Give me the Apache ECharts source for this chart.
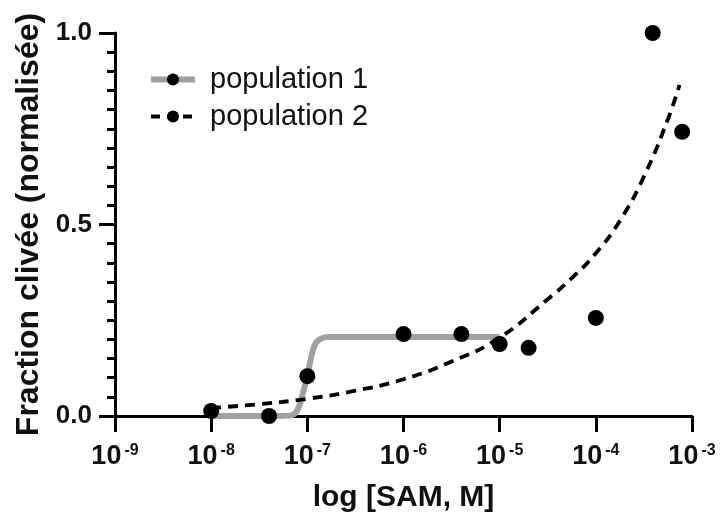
<!DOCTYPE html>
<html>
<head>
<meta charset="utf-8">
<script src="https://cdn.jsdelivr.net/npm/echarts@6/dist/echarts.min.js"></script>
<style>
  html, body { margin: 0; padding: 0; background: #fff; }
  #chart { width: 720px; height: 521px; }
</style>
</head>
<body>
<div id="chart"></div>
<script>
// points mesurés
var pop1X = [1e-8, 4e-8, 1e-7, 1e-6, 4e-6, 1e-5];
var pop1Y = [0.013, 0.0, 0.104, 0.214, 0.214, 0.188];
var pop2X = [2e-5, 1e-4, 3.9e-4, 7.9e-4];
var pop2Y = [0.178, 0.256, 1.0, 0.742];

// courbes ajustées
var fit1X = [1e-8, 5e-8, 6.5e-8, 7.4e-8, 8.2e-8, 9e-8, 1e-7, 1.1e-7, 1.22e-7, 1.38e-7, 1.7e-7, 3e-7, 1e-6, 1e-5];
var fit1Y = [0, 0, 0.001, 0.006, 0.025, 0.06, 0.104, 0.155, 0.19, 0.202, 0.206, 0.206, 0.206, 0.206];
var fit2X = [1e-8, 3.16e-8, 1e-7, 3.16e-7, 1e-6, 3.16e-6, 1e-5, 3.16e-5, 5.62e-5, 1e-4, 1.78e-4, 3.16e-4, 5.62e-4, 7.41e-4];
var fit2Y = [0.021, 0.031, 0.045, 0.066, 0.096, 0.142, 0.205, 0.305, 0.36, 0.425, 0.51, 0.625, 0.775, 0.864];

var yTicks = [0, 0.5, 1.0];

function zip(xs, ys) {
  var out = [];
  for (var i = 0; i < xs.length; i++) out.push([xs[i], ys[i]]);
  return out;
}

var font = 'Liberation Sans, Arial, Helvetica, sans-serif';
var myChart = echarts.init(document.getElementById('chart'));
var option = {
  animation: false,
  textStyle: { fontFamily: font },
  grid: { left: 115, right: 28, top: 33, bottom: 105 },
  legend: {
    data: [
      { name: 'population 1', lineStyle: { width: 6 } },
      { name: 'population 2', lineStyle: { width: 4, type: [9, 7] } }
    ],
    orient: 'vertical',
    left: 143,
    top: 60,
    itemWidth: 44,
    itemHeight: 15,
    itemGap: 8,
    textStyle: { fontSize: 29, color: '#111', fontFamily: font, padding: [0, 0, 0, 10] }
  },
  xAxis: {
    type: 'log',
    logBase: 10,
    min: 1e-9,
    max: 1e-3,
    name: 'log [SAM, M]',
    nameLocation: 'middle',
    nameGap: 67,
    nameTextStyle: { fontSize: 30, fontWeight: 'bold', color: '#111', fontFamily: font },
    axisLine: { lineStyle: { color: '#000', width: 3 } },
    axisTick: { length: 16, lineStyle: { color: '#000', width: 3 } },
    minorTick: { show: false },
    splitLine: { show: false },
    axisLabel: {
      margin: 27,
      formatter: function (v) {
        var e = Math.round(Math.log10(v));
        return '{b|10}{s|' + e + '}';
      },
      rich: {
        b: { fontSize: 27, fontWeight: 'bold', color: '#111', fontFamily: font, lineHeight: 28 },
        s: { fontSize: 16, fontWeight: 'bold', color: '#111', fontFamily: font, verticalAlign: 'top', lineHeight: 16, padding: [0, 0, 0, 3] }
      }
    }
  },
  yAxis: {
    type: 'value',
    min: 0,
    max: 1,
    interval: 0.5,
    name: 'Fraction clivée (normalisée)',
    nameLocation: 'middle',
    nameGap: 58,
    nameTextStyle: { fontSize: 32, fontWeight: 'bold', color: '#111', fontFamily: font },
    axisLine: { show: true, lineStyle: { color: '#000', width: 3 } },
    axisTick: { show: true, length: 16, lineStyle: { color: '#000', width: 3 } },
    minorTick: { show: true, splitNumber: 10, length: 8, lineStyle: { color: '#000', width: 3 } },
    splitLine: { show: false },
    axisLabel: {
      margin: 23,
      fontSize: 26,
      fontWeight: 'bold',
      color: '#111',
      formatter: function (v) {
        for (var i = 0; i < yTicks.length; i++) {
          if (Math.abs(v - yTicks[i]) < 1e-9) return yTicks[i].toFixed(1);
        }
        return '';
      }
    }
  },
  series: [
    {
      name: 'population 1',
      type: 'line',
      data: zip(fit1X, fit1Y),
      smooth: 0.4,
      showSymbol: false,
      symbol: 'circle',
      symbolSize: 15,
      itemStyle: { color: '#000' },
      lineStyle: { color: '#a0a0a0', width: 6 },
      z: 2
    },
    {
      name: 'population 2',
      type: 'line',
      data: zip(fit2X, fit2Y),
      smooth: 0.5,
      showSymbol: false,
      symbol: 'circle',
      symbolSize: 15,
      itemStyle: { color: '#000' },
      lineStyle: { color: '#000', width: 3.8, type: [10, 7] },
      z: 3
    },
    {
      name: 'pts1',
      type: 'scatter',
      data: zip(pop1X, pop1Y),
      symbol: 'circle',
      symbolSize: 16,
      itemStyle: { color: '#000', opacity: 1 },
      z: 5
    },
    {
      name: 'pts2',
      type: 'scatter',
      data: zip(pop2X, pop2Y),
      symbol: 'circle',
      symbolSize: 16,
      itemStyle: { color: '#000', opacity: 1 },
      z: 5
    }
  ]
};
myChart.setOption(option);
</script>
</body>
</html>
